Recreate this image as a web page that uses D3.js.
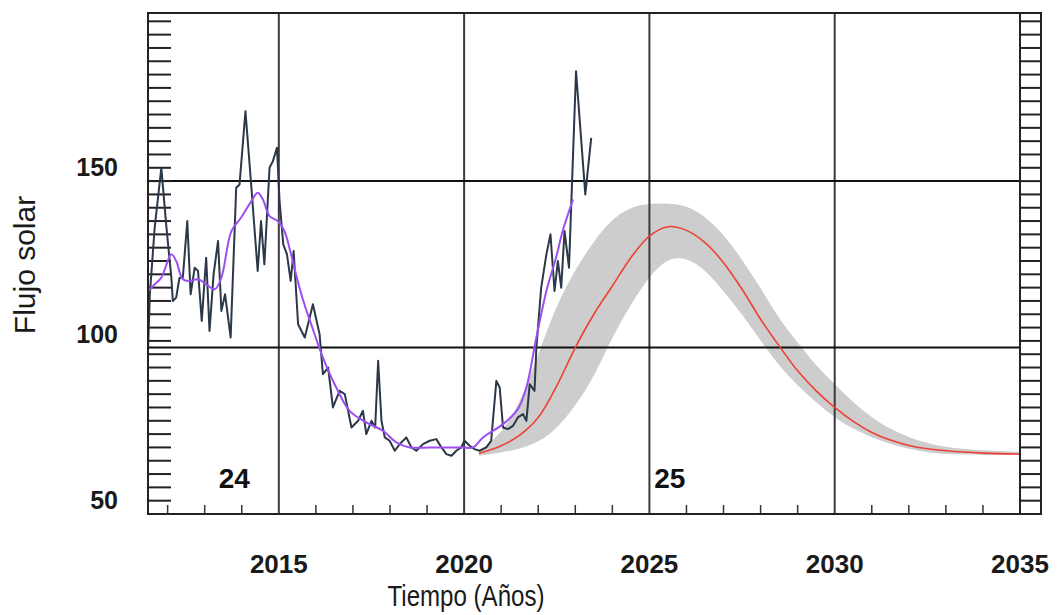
<!DOCTYPE html>
<html>
<head>
<meta charset="utf-8">
<script src="https://cdn.jsdelivr.net/npm/d3@7"></script>
<style>
  body { margin: 0; background: #fff; }
  svg { display: block; font-family: "Liberation Sans", Arial, sans-serif; }
</style>
</head>
<body>
<svg id="chart" width="1057" height="615"></svg>
<script>
// observed monthly solar flux
var obsYears = [2011.47, 2011.52, 2011.65, 2011.83, 2011.96, 2012.1, 2012.14, 2012.23, 2012.32, 2012.41,
	2012.53, 2012.62, 2012.73, 2012.82, 2012.92, 2013.04, 2013.13, 2013.24, 2013.36, 2013.45,
	2013.55, 2013.7, 2013.85, 2013.94, 2014.1, 2014.26, 2014.43, 2014.52, 2014.61, 2014.75,
	2014.84, 2014.95, 2015.02, 2015.12, 2015.22, 2015.32, 2015.4, 2015.52, 2015.7, 2015.92,
	2016.1, 2016.19, 2016.33, 2016.46, 2016.64, 2016.78, 2016.96, 2017.14, 2017.27, 2017.36,
	2017.5, 2017.6, 2017.68, 2017.77, 2017.86, 2017.99, 2018.13, 2018.26, 2018.44, 2018.58,
	2018.71, 2018.89, 2019.07, 2019.25, 2019.39, 2019.52, 2019.66, 2019.79, 2019.92, 2020.01,
	2020.15, 2020.28, 2020.42, 2020.6, 2020.73, 2020.87, 2020.96, 2021.05, 2021.18, 2021.32,
	2021.45, 2021.59, 2021.68, 2021.77, 2021.9, 2021.95, 2022.08, 2022.22, 2022.33, 2022.44,
	2022.53, 2022.62, 2022.71, 2022.83, 2023.02, 2023.27, 2023.43];
var obsFlux = [99, 116, 136, 154, 137, 121, 114, 115, 121, 121,
	138, 116, 124, 123, 108, 127, 105, 122, 132, 111,
	116, 103, 148, 149, 171, 148, 123, 138, 125, 154,
	156, 160, 144, 131, 128, 120, 129, 107, 103, 113,
	104, 92, 94, 82, 87, 86, 76, 78, 81, 74,
	78, 76, 96, 78, 73, 72, 69, 71, 73, 70,
	69, 71, 72, 72.5, 70, 68, 67.5, 69, 70, 72,
	70.5, 69.5, 69, 70, 72, 90, 88, 76, 75.5, 76.5,
	79, 80, 78, 89, 87, 100, 118, 128, 134, 117,
	126, 118, 135, 124, 183, 146, 163];

// smoothed flux
var smoothYears = [2011.47, 2011.65, 2011.83, 2012.1, 2012.23, 2012.41, 2012.59, 2012.82, 2013.04, 2013.27,
	2013.45, 2013.72, 2013.98, 2014.26, 2014.43, 2014.57, 2014.75, 2014.97, 2015.15, 2015.33,
	2015.51, 2015.69, 2015.92, 2016.19, 2016.55, 2016.91, 2017.36, 2017.81, 2018.17, 2018.53,
	2019.07, 2019.61, 2019.97, 2020.24, 2020.51, 2021.05, 2021.45, 2021.68, 2021.95, 2022.22,
	2022.48, 2022.66, 2022.94];
var smoothFlux = [117, 119, 121, 128, 126, 120.5, 120, 120.5, 119, 117.5,
	121, 135, 139, 144, 146.5, 144.5, 139.5, 138, 135, 128,
	120, 113, 105.5, 97, 88, 81, 77.5, 75, 71.5, 70,
	70, 70, 70, 70, 73, 77, 81.5, 88, 103, 117,
	127, 135, 144.5];

// predicted cycle 25 and its range
var predYears = [2020.4, 2021, 2021.5, 2022, 2022.5, 2023, 2023.5, 2024, 2024.5, 2025,
	2025.5, 2026, 2026.5, 2027, 2027.5, 2028, 2028.5, 2029, 2029.5, 2030,
	2030.5, 2031, 2031.5, 2032, 2032.5, 2033, 2034, 2035];
var predMid = [68.2, 70.5, 73.7, 79, 88.5, 100, 110, 118.5, 127, 133.5,
	136.3, 135.2, 131.5, 125.5, 117.5, 108.5, 100.5, 93, 87, 82,
	77.8, 74.5, 72.2, 70.6, 69.6, 69, 68.3, 68];
var predHigh = [69, 74, 83, 98, 113, 123.5, 132, 138.8, 142.3, 143.3,
	143.3, 142.8, 139.5, 134, 126.5, 118, 108.5, 101.5, 94.5, 89,
	83.5, 79, 75.5, 73, 71.2, 70, 69, 68.7];
var predLow = [67.5, 68.5, 69.5, 71.5, 75.5, 82.5, 91, 103.3, 113, 121.5,
	127, 127, 123.5, 117, 110, 102, 94.5, 88.5, 83.5, 79,
	75.5, 73, 71, 69.5, 68.5, 68, 67.7, 67.7];

var yearTicks = [2015, 2020, 2025, 2030, 2035];
var fluxTicks = [50, 100, 150];
var cycleNames = ["24", "25"];
var cycleYears = [2013.8, 2025.55];

function draw_chart() {
	var svg = d3.select("#chart");
	var pl = 148, pr = 1020, pt = 13, pb = 514, strip = 21;

	var x = d3.scaleLinear().domain([2011.47, 2035]).range([pl, pr]);
	var y = d3.scaleLinear().domain([50, 200.5]).range([pb, pt]);

	svg.append("defs").append("clipPath")
		.attr("id", "plotclip")
		.append("rect")
		.attr("x", pl).attr("y", pt)
		.attr("width", pr - pl).attr("height", pb - pt);

	var band = predYears.map(function(d, i) {
		return { year: d, lo: predLow[i], hi: predHigh[i], mid: predMid[i] };
	});

	svg.append("path")
		.datum(band)
		.attr("clip-path", "url(#plotclip)")
		.attr("fill", "#cdcdcd")
		.attr("d", d3.area()
			.curve(d3.curveBasis)
			.x(function(d) { return x(d.year); })
			.y0(function(d) { return y(d.lo); })
			.y1(function(d) { return y(d.hi); }));

	// grid
	var grid = svg.append("g");
	grid.selectAll("line.v")
		.data(yearTicks.slice(0, 4))
		.enter().append("line")
		.attr("class", "v")
		.attr("x1", function(d) { return x(d); })
		.attr("x2", function(d) { return x(d); })
		.attr("y1", pt).attr("y2", pb)
		.attr("stroke", "#3a3a3a")
		.attr("stroke-width", 2);
	grid.selectAll("line.h")
		.data([100, 150])
		.enter().append("line")
		.attr("class", "h")
		.attr("x1", pl).attr("x2", pr)
		.attr("y1", function(d) { return y(d); })
		.attr("y2", function(d) { return y(d); })
		.attr("stroke", "#111")
		.attr("stroke-width", 2);

	// minor ticks
	var minorY = d3.range(54, 200, 4);
	svg.append("g").selectAll("line")
		.data(minorY)
		.enter().append("line")
		.attr("x1", pl).attr("x2", pl + 23)
		.attr("y1", function(d) { return y(d); })
		.attr("y2", function(d) { return y(d); })
		.attr("stroke", "#222")
		.attr("stroke-width", 2);
	svg.append("g").selectAll("line")
		.data(minorY)
		.enter().append("line")
		.attr("x1", pr).attr("x2", pr + strip)
		.attr("y1", function(d) { return y(d); })
		.attr("y2", function(d) { return y(d); })
		.attr("stroke", "#222")
		.attr("stroke-width", 2);
	svg.append("g").selectAll("line")
		.data(d3.range(2012, 2035).filter(function(d) { return d % 5 != 0; }))
		.enter().append("line")
		.attr("x1", function(d) { return x(d); })
		.attr("x2", function(d) { return x(d); })
		.attr("y1", pb).attr("y2", pb - 9)
		.attr("stroke", "#333")
		.attr("stroke-width", 1.5);

	// predicted line
	svg.append("path")
		.datum(band)
		.attr("fill", "none")
		.attr("stroke", "#ee4035")
		.attr("stroke-width", 1.6)
		.attr("d", d3.line()
			.curve(d3.curveCatmullRom)
			.x(function(d) { return x(d.year); })
			.y(function(d) { return y(d.mid); }));

	// observed
	svg.append("path")
		.datum(obsYears.map(function(d, i) { return [d, obsFlux[i]]; }))
		.attr("clip-path", "url(#plotclip)")
		.attr("fill", "none")
		.attr("stroke", "#2b3848")
		.attr("stroke-width", 2)
		.attr("stroke-linejoin", "round")
		.attr("d", d3.line()
			.x(function(d) { return x(d[0]); })
			.y(function(d) { return y(d[1]); }));

	svg.append("path")
		.datum(smoothYears.map(function(d, i) { return [d, smoothFlux[i]]; }))
		.attr("clip-path", "url(#plotclip)")
		.attr("fill", "none")
		.attr("stroke", "#9d4ef2")
		.attr("stroke-width", 2)
		.attr("d", d3.line()
			.curve(d3.curveCatmullRom)
			.x(function(d) { return x(d[0]); })
			.y(function(d) { return y(d[1]); }));

	// frame
	svg.append("rect")
		.attr("x", pl).attr("y", pt)
		.attr("width", pr + strip - pl).attr("height", pb - pt)
		.attr("fill", "none")
		.attr("stroke", "#222")
		.attr("stroke-width", 2);
	svg.append("line")
		.attr("x1", pr).attr("x2", pr)
		.attr("y1", pt).attr("y2", pb)
		.attr("stroke", "#222")
		.attr("stroke-width", 2);

	// labels
	svg.append("g").selectAll("text")
		.data(yearTicks)
		.enter().append("text")
		.attr("x", function(d) { return x(d); })
		.attr("y", 573)
		.attr("text-anchor", "middle")
		.attr("font-size", 26)
		.attr("font-weight", "bold")
		.attr("fill", "#1a1a1a")
		.text(function(d) { return d; });

	svg.append("g").selectAll("text")
		.data(fluxTicks)
		.enter().append("text")
		.attr("x", 118)
		.attr("y", function(d) { return y(d) - 5; })
		.attr("text-anchor", "end")
		.attr("font-size", 25)
		.attr("font-weight", "bold")
		.attr("fill", "#1a1a1a")
		.text(function(d) { return d; });

	svg.append("g").selectAll("text")
		.data(cycleNames)
		.enter().append("text")
		.attr("x", function(d, i) { return x(cycleYears[i]); })
		.attr("y", 488)
		.attr("text-anchor", "middle")
		.attr("font-size", 28)
		.attr("font-weight", "bold")
		.attr("fill", "#111")
		.text(function(d) { return d; });

	svg.append("text")
		.attr("x", 466)
		.attr("y", 606)
		.attr("text-anchor", "middle")
		.attr("font-size", 30)
		.attr("textLength", 157)
		.attr("lengthAdjust", "spacingAndGlyphs")
		.attr("fill", "#1a1a1a")
		.text("Tiempo (Años)");

	svg.append("text")
		.attr("transform", "translate(35,265) rotate(-90)")
		.attr("text-anchor", "middle")
		.attr("font-size", 30)
		.attr("fill", "#1a1a1a")
		.text("Flujo solar");
}

draw_chart();
</script>
</body>
</html>
